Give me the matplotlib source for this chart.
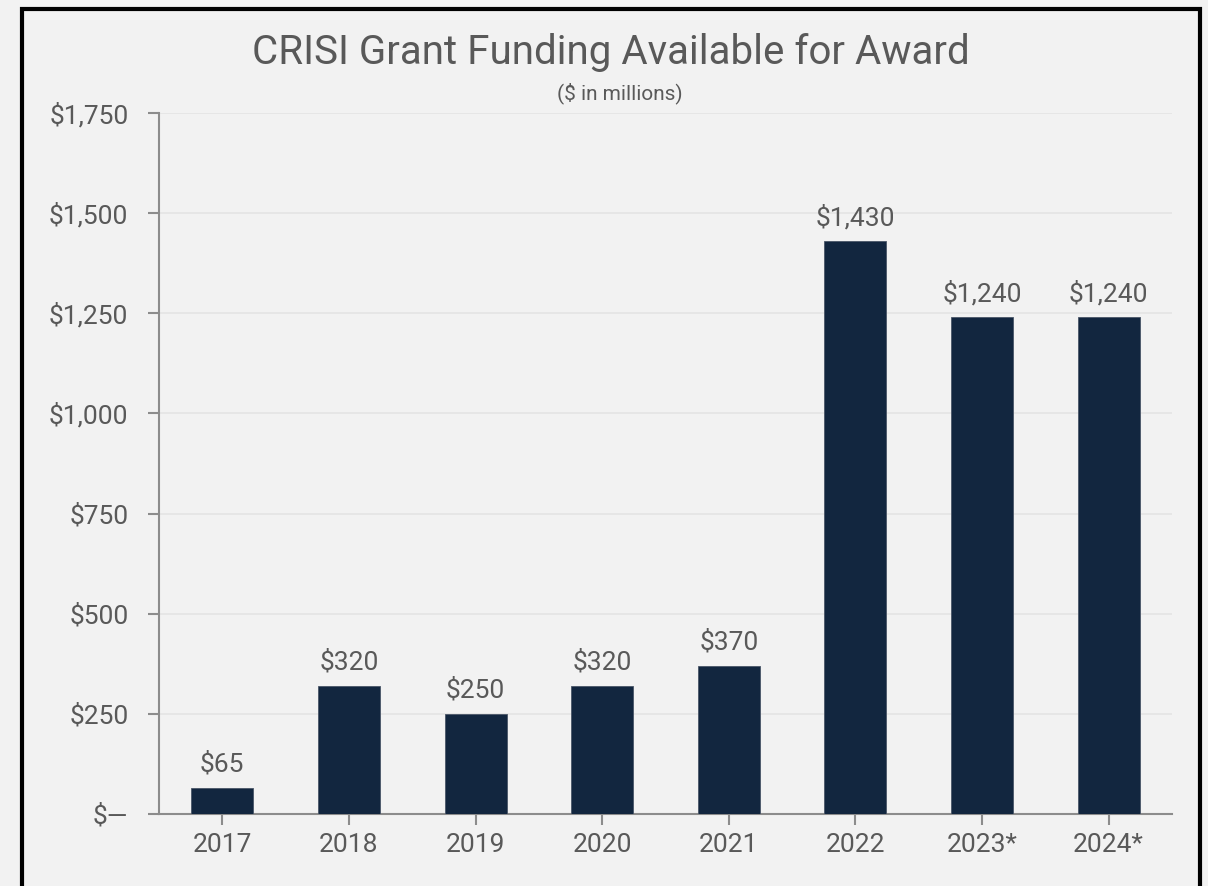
import matplotlib
matplotlib.use("Agg")
import matplotlib.pyplot as plt
from matplotlib.patches import Rectangle
from matplotlib.ticker import FuncFormatter

years = ["2017", "2018", "2019", "2020", "2021", "2022", "2023*", "2024*"]
funding = [65, 320, 250, 320, 370, 1430, 1240, 1240]
y_ticks = [0, 250, 500, 750, 1000, 1250, 1500, 1750]

BG = "#f2f2f2"
BAR = "#12263f"
TEXT = "#595959"
AXIS = "#8c8c8c"
GRID = "#e4e4e4"

plt.rcParams["font.family"] = ["Roboto", "DejaVu Sans"]

fig = plt.figure(figsize=(12.08, 8.86), dpi=100, facecolor=BG)
ax = fig.add_axes([0.1316, 0.0813, 0.8386, 0.7912], facecolor=BG)

x = range(len(years))
bars = ax.bar(x, funding, width=0.49, color=BAR, edgecolor="#4a5668",
              linewidth=0.6, zorder=3)

for rect, val in zip(bars, funding):
    ax.annotate(f"${val:,}", (rect.get_x() + rect.get_width() / 2, val),
                xytext=(0, 8), textcoords="offset points",
                ha="center", va="bottom", fontsize=19, color=TEXT)

ax.set_xlim(-0.5, len(years) - 0.5)
ax.set_ylim(0, 1750)
ax.set_yticks(y_ticks)
ax.yaxis.set_major_formatter(FuncFormatter(
    lambda v, _: "$\u2014" if v == 0 else f"${v:,.0f}"))
ax.set_xticks(list(x))
ax.set_xticklabels(years)

ax.grid(axis="y", color=GRID, linewidth=1.2, zorder=0)
for side in ("top", "right"):
    ax.spines[side].set_visible(False)
for side in ("left", "bottom"):
    ax.spines[side].set_color(AXIS)
    ax.spines[side].set_linewidth(1.5)

ax.tick_params(axis="y", length=8, width=1.5, color=AXIS, pad=14,
               labelsize=19, labelcolor=TEXT)
ax.tick_params(axis="x", length=8, width=1.5, color=AXIS, pad=6,
               labelsize=19, labelcolor=TEXT)

fig.text(0.506, 0.941, "CRISI Grant Funding Available for Award",
         ha="center", va="center", fontsize=29, color=TEXT)
fig.text(0.513, 0.895, "($ in millions)", ha="center", va="center",
         fontsize=15, color=TEXT)

# black frame around the whole chart
fig.patches.append(Rectangle((0.0182, -0.05), 0.9752, 1.0403,
                             transform=fig.transFigure, fill=False,
                             edgecolor="black", linewidth=3))

fig.savefig("out.png", dpi=100, facecolor=BG)
